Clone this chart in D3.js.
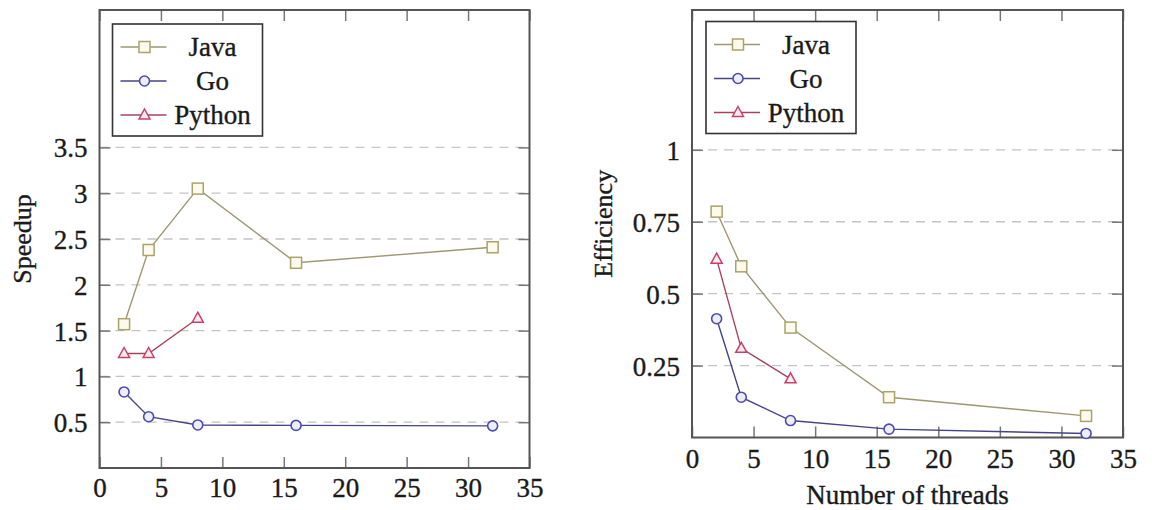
<!DOCTYPE html>
<html>
<head>
<meta charset="utf-8">
<script src="https://cdn.jsdelivr.net/npm/d3@7"></script>
<style>
  body { margin: 0; background: #fff; }
</style>
</head>
<body>
<svg id="chart" width="1152" height="510"></svg>
<script>
// data
var threads = [2, 4, 8, 16, 32];
var seriesNames = ["Java", "Go", "Python"];

var speedupJava = [1.57, 2.38, 3.05, 2.24, 2.41];
var speedupGo = [0.83, 0.56, 0.47, 0.465, 0.46];
var speedupPython = [1.25, 1.25, 1.635];

var effJava = [0.785, 0.595, 0.382, 0.14, 0.075];
var effGo = [0.413, 0.14, 0.059, 0.029, 0.014];
var effPython = [0.62, 0.31, 0.204];

var xTicks = [0, 5, 10, 15, 20, 25, 30, 35];
var speedupTicks = [0.5, 1, 1.5, 2, 2.5, 3, 3.5];
var effTicks = [0.25, 0.5, 0.75, 1];

var FONT = "'Liberation Serif', serif";

var styles = {
  Java:   {line: "#9d9773", mark: "#aba26c", fill: "#fcfaec", shape: "square"},
  Go:     {line: "#44448a", mark: "#4b4bb0", fill: "#eeeefa", shape: "circle"},
  Python: {line: "#a8435c", mark: "#c8406a", fill: "#fbecef", shape: "triangle"}
};

var svg = d3.select("#chart");

// text look: a little heavier, like the scanned LaTeX figure
function textStyle(sel, size){
  sel.attr("font-family", FONT).attr("font-size", size)
    .attr("fill", "#1a1a1a").attr("stroke", "#1a1a1a").attr("stroke-width", 0.35);
}

function drawMarker(g, shape, cx, cy, st){
  if(shape == "square"){
    g.append("rect").attr("x", cx-5.5).attr("y", cy-5.5).attr("width", 11).attr("height", 11)
      .attr("fill", st.fill).attr("stroke", st.mark).attr("stroke-width", 1.5);
  } else if(shape == "circle"){
    g.append("circle").attr("cx", cx).attr("cy", cy).attr("r", 5)
      .attr("fill", st.fill).attr("stroke", st.mark).attr("stroke-width", 1.6);
  } else {
    var p = [[cx, cy-6], [cx+5.5, cy+4], [cx-5.5, cy+4]];
    g.append("path").attr("d", "M" + p.join("L") + "Z")
      .attr("fill", st.fill).attr("stroke", st.mark).attr("stroke-width", 1.5);
  }
}

function drawPanel(opt){
  var x = d3.scaleLinear().domain([0, 35]).range([opt.left, opt.right]);
  var y = d3.scaleLinear().domain([0, opt.yMax]).range([opt.bottom, opt.top]);
  var g = svg.append("g");

  // dashed grid
  g.append("g").selectAll("line")
    .data(opt.yTicks)
    .enter()
    .append("line")
      .attr("x1", opt.left).attr("x2", opt.right)
      .attr("y1", function(d){ return y(d); })
      .attr("y2", function(d){ return y(d); })
      .attr("stroke", "#c4c4c4")
      .attr("stroke-width", 1.3)
      .attr("stroke-dasharray", "9,7");

  // axes with inward ticks
  var gx = g.append("g").attr("transform", "translate(0," + opt.bottom + ")")
    .call(d3.axisBottom(x).tickValues(xTicks).tickSize(-11).tickFormat(d3.format("d")));
  gx.selectAll("text").attr("y", opt.xLabelOff).attr("dy", "0.35em");

  g.append("g").attr("transform", "translate(0," + opt.top + ")")
    .call(d3.axisTop(x).tickValues(xTicks).tickSize(-11).tickFormat(""));

  var gy = g.append("g").attr("transform", "translate(" + opt.left + ",0)")
    .call(d3.axisLeft(y).tickValues(opt.yTicks).tickSize(-11).tickFormat(function(d){ return String(d); }));
  gy.selectAll("text").attr("x", -12).attr("dy", "0.35em");

  g.append("g").attr("transform", "translate(" + opt.right + ",0)")
    .call(d3.axisRight(y).tickValues(opt.yTicks).tickSize(-11).tickFormat(""));

  g.selectAll(".domain").remove();
  g.selectAll(".tick line").attr("stroke", "#777").attr("stroke-width", 1.5);
  textStyle(g.selectAll(".tick text"), 27);

  // frame
  g.append("rect")
    .attr("x", opt.left).attr("y", opt.top)
    .attr("width", opt.right - opt.left).attr("height", opt.bottom - opt.top)
    .attr("fill", "none").attr("stroke", "#555").attr("stroke-width", 2);

  // series
  var line = d3.line()
    .x(function(d){ return x(d.t); })
    .y(function(d){ return y(d.v); });

  seriesNames.forEach(function(name){
    var vals = opt.series[name];
    var pts = vals.map(function(v, i){ return {t: threads[i], v: v}; });
    var st = styles[name];
    g.append("path")
      .datum(pts)
      .attr("d", line)
      .attr("fill", "none")
      .attr("stroke", st.line)
      .attr("stroke-width", 1.4);
    var gm = g.append("g");
    pts.forEach(function(p){ drawMarker(gm, st.shape, x(p.t), y(p.v), st); });
  });

  // legend
  var lg = g.append("g").attr("transform", "translate(" + opt.legX + "," + opt.legY + ")");
  lg.append("rect").attr("width", 150).attr("height", 112)
    .attr("fill", "#fff").attr("stroke", "#333").attr("stroke-width", 1.6);
  seriesNames.forEach(function(name, i){
    var st = styles[name];
    var ly = 23 + i*34;
    lg.append("line").attr("x1", 8).attr("x2", 54).attr("y1", ly).attr("y2", ly)
      .attr("stroke", st.line).attr("stroke-width", 1.4);
    drawMarker(lg, st.shape, 32, ly, st);
    var t = lg.append("text").attr("x", 100).attr("y", ly).attr("dy", "0.35em")
      .attr("text-anchor", "middle").text(name);
    textStyle(t, 27);
  });

  // axis titles
  var yt = svg.append("text")
    .attr("transform", "translate(" + opt.yTitleX + "," + ((opt.top + opt.bottom)/2) + ") rotate(-90)")
    .attr("text-anchor", "middle").attr("dy", "0.35em")
    .text(opt.yTitle);
  textStyle(yt, 26);
  if(opt.xTitle){
    var xt = svg.append("text")
      .attr("x", (opt.left + opt.right)/2).attr("y", opt.xTitleY).attr("dy", "0.35em")
      .attr("text-anchor", "middle").text(opt.xTitle);
    textStyle(xt, 27);
  }
}

drawPanel({
  left: 99.5, right: 529.5, top: 10, bottom: 468, yMax: 5,
  yTicks: speedupTicks, xLabelOff: 20,
  series: {Java: speedupJava, Go: speedupGo, Python: speedupPython},
  legX: 112.5, legY: 24,
  yTitle: "Speedup", yTitleX: 22
});

drawPanel({
  left: 692, right: 1123, top: 10, bottom: 437.5, yMax: 1.486,
  yTicks: effTicks, xLabelOff: 21.5,
  series: {Java: effJava, Go: effGo, Python: effPython},
  legX: 706, legY: 21.5,
  yTitle: "Efficiency", yTitleX: 603,
  xTitle: "Number of threads", xTitleY: 495
});
</script>
</body>
</html>
